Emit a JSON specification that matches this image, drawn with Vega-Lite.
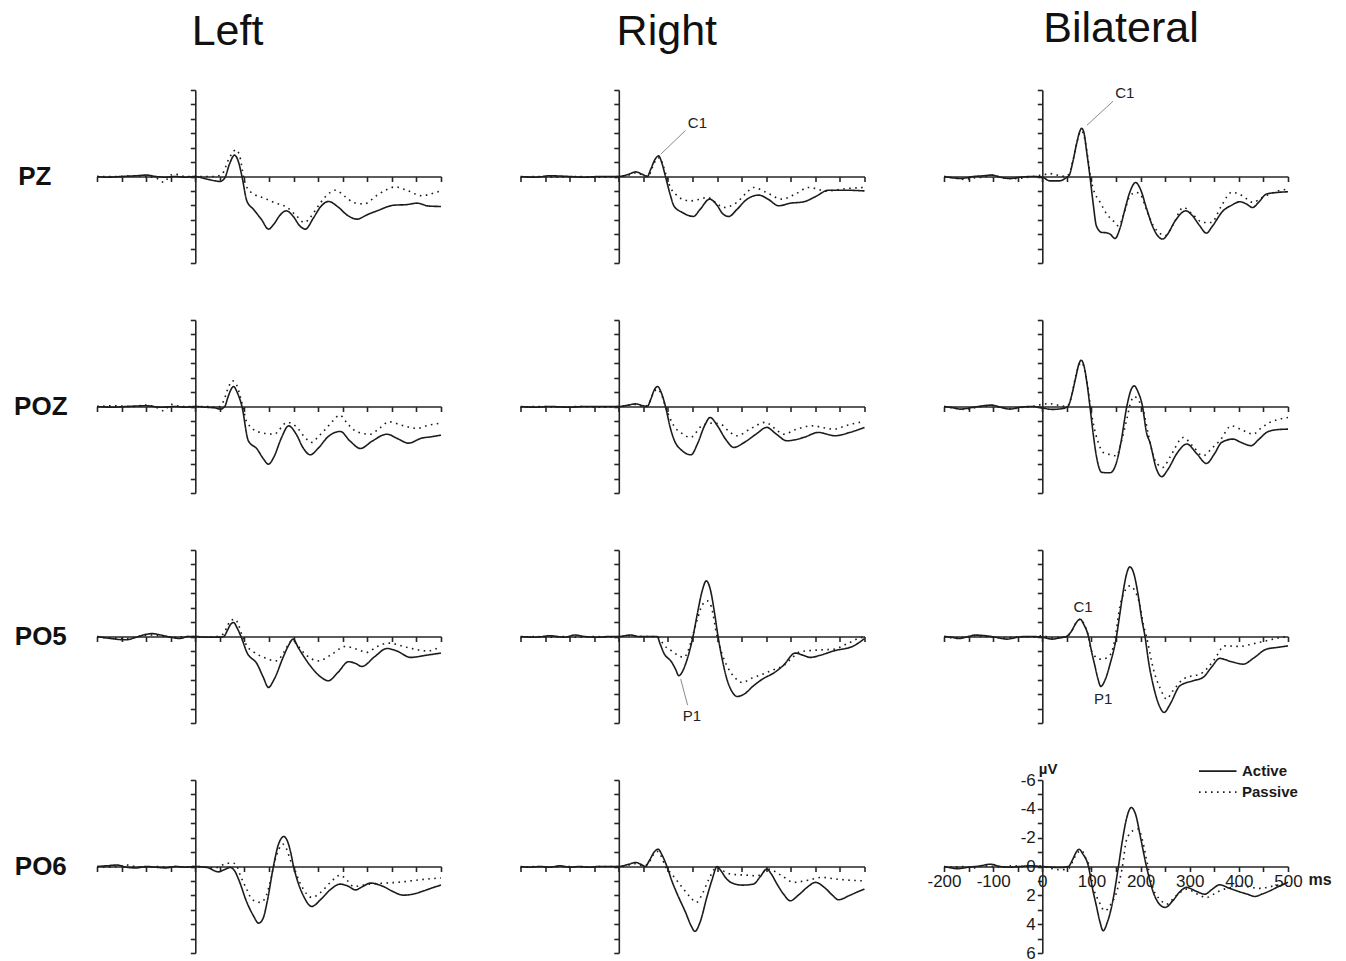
{
"$schema": "https://vega.github.io/schema/vega-lite/v6.json",
"background": "white",
"padding": {"left": 13, "top": 7, "right": 5, "bottom": 5},
"columns": 3,
"spacing": {"row": 57, "column": 79.5},
"bounds": "flush",
"resolve": {"scale": {"strokeDash": "independent"}, "legend": {"strokeDash": "independent"}},
"config": {
  "view": {"stroke": null},
  "font": "Liberation Sans",
  "axis": {"grid": false, "domainColor": "#262626", "domainWidth": 1.6, "tickColor": "#262626", "tickWidth": 1.6, "tickSize": 5, "labelFont": "Liberation Sans", "labelFontSize": 17, "labelColor": "#1a1a1a", "labelFlush": false, "labelOverlap": false, "labelPadding": 2, "titleFont": "Liberation Sans"},
  "line": {"interpolate": "monotone", "color": "#1c1c1c", "strokeWidth": 1.6},
  "text": {"font": "Liberation Sans", "fontSize": 15, "color": "#222222"},
  "rule": {"color": "#8a8a8a", "strokeWidth": 1},
  "title": {"font": "Liberation Sans", "fontSize": 43, "fontWeight": "normal", "color": "#111111"}
},
"datasets": {
"PZ_Left_Active": [{"t":-200,"v":0},{"t":-180,"v":0.05},{"t":-150,"v":0},{"t":-120,"v":-0.05},{"t":-100,"v":-0.1},{"t":-80,"v":0},{"t":-60,"v":0.05},{"t":-40,"v":0},{"t":-20,"v":0.05},{"t":0,"v":0},{"t":20,"v":0.15},{"t":40,"v":0.3},{"t":50,"v":0.35},{"t":60,"v":0.1},{"t":70,"v":-0.9},{"t":80,"v":-1.48},{"t":88,"v":-1.0},{"t":95,"v":0},{"t":105,"v":1.7},{"t":119,"v":2.3},{"t":135,"v":3.0},{"t":149,"v":3.65},{"t":160,"v":3.3},{"t":172,"v":2.7},{"t":185,"v":2.38},{"t":200,"v":2.8},{"t":212,"v":3.4},{"t":224,"v":3.65},{"t":240,"v":2.9},{"t":255,"v":2.1},{"t":271,"v":1.73},{"t":290,"v":2.1},{"t":310,"v":2.7},{"t":329,"v":2.96},{"t":350,"v":2.65},{"t":370,"v":2.38},{"t":404,"v":1.99},{"t":430,"v":1.95},{"t":451,"v":1.85},{"t":475,"v":2.05},{"t":500,"v":2.08}],
"PZ_Left_Passive": [{"t":-200,"v":0},{"t":-160,"v":0},{"t":-130,"v":-0.05},{"t":-100,"v":0},{"t":-80,"v":0.1},{"t":-64,"v":0.4},{"t":-50,"v":-0.1},{"t":-40,"v":-0.15},{"t":-20,"v":0},{"t":0,"v":0},{"t":20,"v":0},{"t":40,"v":0},{"t":55,"v":-0.2},{"t":68,"v":-1.2},{"t":83,"v":-1.85},{"t":92,"v":-1.2},{"t":98,"v":0},{"t":105,"v":0.76},{"t":119,"v":1.22},{"t":140,"v":1.5},{"t":160,"v":1.8},{"t":187,"v":2.15},{"t":205,"v":2.7},{"t":222,"v":3.19},{"t":235,"v":2.8},{"t":248,"v":2.15},{"t":265,"v":1.4},{"t":285,"v":0.95},{"t":305,"v":1.4},{"t":322,"v":1.8},{"t":343,"v":1.9},{"t":370,"v":1.3},{"t":390,"v":0.9},{"t":407,"v":0.72},{"t":430,"v":0.95},{"t":461,"v":1.34},{"t":480,"v":1.2},{"t":500,"v":1.0}],
"PZ_Right_Active": [{"t":-200,"v":0},{"t":-170,"v":0.05},{"t":-140,"v":-0.05},{"t":-100,"v":0},{"t":-70,"v":0.05},{"t":-40,"v":0},{"t":-20,"v":0},{"t":0,"v":0},{"t":20,"v":-0.15},{"t":34,"v":-0.32},{"t":48,"v":-0.15},{"t":58,"v":0},{"t":65,"v":-0.5},{"t":74,"v":-1.2},{"t":81,"v":-1.43},{"t":88,"v":-0.9},{"t":95,"v":0},{"t":105,"v":1.3},{"t":112,"v":2.03},{"t":129,"v":2.49},{"t":152,"v":2.77},{"t":165,"v":2.3},{"t":185,"v":1.57},{"t":200,"v":2.0},{"t":212,"v":2.6},{"t":224,"v":2.77},{"t":240,"v":2.3},{"t":260,"v":1.6},{"t":285,"v":1.29},{"t":305,"v":1.6},{"t":325,"v":2.03},{"t":350,"v":1.85},{"t":376,"v":1.76},{"t":400,"v":1.4},{"t":427,"v":0.95},{"t":460,"v":0.95},{"t":500,"v":1.0}],
"PZ_Right_Passive": [{"t":-200,"v":0.05},{"t":-160,"v":0},{"t":-120,"v":0.05},{"t":-80,"v":0},{"t":-40,"v":0.05},{"t":0,"v":0},{"t":20,"v":-0.1},{"t":34,"v":-0.25},{"t":50,"v":-0.1},{"t":60,"v":0},{"t":68,"v":-0.6},{"t":78,"v":-1.25},{"t":84,"v":-1.3},{"t":90,"v":-0.8},{"t":98,"v":0.1},{"t":105,"v":0.76},{"t":115,"v":1.2},{"t":129,"v":1.57},{"t":146,"v":1.69},{"t":162,"v":1.6},{"t":180,"v":1.45},{"t":197,"v":1.8},{"t":213,"v":2.15},{"t":240,"v":1.8},{"t":258,"v":1.2},{"t":274,"v":0.76},{"t":300,"v":1.1},{"t":332,"v":1.57},{"t":360,"v":1.2},{"t":386,"v":0.76},{"t":423,"v":1.0},{"t":460,"v":0.85},{"t":500,"v":0.76}],
"PZ_Bilateral_Active": [{"t":-200,"v":0},{"t":-180,"v":0.1},{"t":-167,"v":0.14},{"t":-140,"v":0},{"t":-120,"v":-0.05},{"t":-103,"v":-0.1},{"t":-85,"v":0.05},{"t":-66,"v":0.14},{"t":-45,"v":0.05},{"t":-20,"v":0},{"t":0,"v":0.05},{"t":15,"v":0.3},{"t":35,"v":0.3},{"t":48,"v":0.1},{"t":55,"v":-0.1},{"t":62,"v":-1.0},{"t":70,"v":-2.3},{"t":76,"v":-3.1},{"t":80,"v":-3.35},{"t":85,"v":-3.0},{"t":90,"v":-1.8},{"t":97,"v":0},{"t":104,"v":2.0},{"t":110,"v":3.42},{"t":121,"v":3.88},{"t":130,"v":3.9},{"t":138,"v":4.0},{"t":148,"v":4.3},{"t":158,"v":3.6},{"t":168,"v":2.3},{"t":178,"v":1.1},{"t":190,"v":0.42},{"t":200,"v":0.9},{"t":212,"v":2.2},{"t":225,"v":3.5},{"t":237,"v":4.2},{"t":245,"v":4.34},{"t":255,"v":4.0},{"t":270,"v":3.1},{"t":292,"v":2.38},{"t":305,"v":2.7},{"t":320,"v":3.4},{"t":334,"v":3.93},{"t":345,"v":3.5},{"t":368,"v":2.38},{"t":385,"v":2.0},{"t":402,"v":1.75},{"t":415,"v":1.9},{"t":428,"v":2.15},{"t":440,"v":1.8},{"t":456,"v":1.22},{"t":480,"v":1.1},{"t":500,"v":1.06}],
"PZ_Bilateral_Passive": [{"t":-200,"v":0},{"t":-180,"v":0.1},{"t":-160,"v":0.2},{"t":-140,"v":0.1},{"t":-120,"v":0.05},{"t":-100,"v":-0.1},{"t":-80,"v":0.1},{"t":-60,"v":0.15},{"t":-40,"v":0.1},{"t":-20,"v":0},{"t":0,"v":-0.1},{"t":15,"v":-0.2},{"t":30,"v":-0.1},{"t":48,"v":0},{"t":56,"v":-0.3},{"t":63,"v":-1.2},{"t":70,"v":-2.3},{"t":76,"v":-3.0},{"t":80,"v":-3.16},{"t":85,"v":-2.8},{"t":92,"v":-1.5},{"t":98,"v":0},{"t":104,"v":0.88},{"t":118,"v":1.8},{"t":131,"v":2.6},{"t":145,"v":3.1},{"t":155,"v":3.42},{"t":165,"v":2.7},{"t":177,"v":1.45},{"t":190,"v":1.1},{"t":199,"v":1.22},{"t":212,"v":2.3},{"t":226,"v":3.42},{"t":238,"v":3.9},{"t":250,"v":4.1},{"t":265,"v":3.4},{"t":287,"v":2.15},{"t":305,"v":2.6},{"t":327,"v":3.19},{"t":344,"v":3.19},{"t":365,"v":2.0},{"t":385,"v":1.1},{"t":400,"v":1.2},{"t":412,"v":1.45},{"t":429,"v":1.8},{"t":445,"v":1.5},{"t":463,"v":1.22},{"t":480,"v":1.0},{"t":500,"v":0.88}],
"POZ_Left_Active": [{"t":-200,"v":0},{"t":-170,"v":0.05},{"t":-140,"v":0},{"t":-100,"v":-0.05},{"t":-70,"v":0.05},{"t":-40,"v":0},{"t":-20,"v":0.05},{"t":0,"v":0},{"t":20,"v":0.05},{"t":40,"v":0.1},{"t":51,"v":0.18},{"t":60,"v":0},{"t":67,"v":-0.7},{"t":73,"v":-1.2},{"t":78,"v":-1.39},{"t":85,"v":-1.0},{"t":95,"v":0},{"t":108,"v":2.38},{"t":126,"v":2.96},{"t":138,"v":3.6},{"t":149,"v":4.0},{"t":160,"v":3.5},{"t":175,"v":2.2},{"t":190,"v":1.34},{"t":205,"v":1.9},{"t":220,"v":2.9},{"t":234,"v":3.35},{"t":250,"v":2.9},{"t":270,"v":2.1},{"t":295,"v":1.73},{"t":315,"v":2.4},{"t":336,"v":2.91},{"t":360,"v":2.4},{"t":390,"v":1.92},{"t":410,"v":2.2},{"t":434,"v":2.54},{"t":460,"v":2.2},{"t":480,"v":2.1},{"t":500,"v":1.99}],
"POZ_Left_Passive": [{"t":-200,"v":0},{"t":-160,"v":-0.05},{"t":-130,"v":0},{"t":-100,"v":-0.1},{"t":-80,"v":0.05},{"t":-64,"v":0.3},{"t":-50,"v":-0.15},{"t":-30,"v":0},{"t":0,"v":0},{"t":20,"v":0},{"t":45,"v":0.05},{"t":58,"v":-0.4},{"t":67,"v":-1.3},{"t":76,"v":-1.78},{"t":84,"v":-1.5},{"t":93,"v":-0.5},{"t":98,"v":0.2},{"t":105,"v":1.1},{"t":132,"v":1.8},{"t":160,"v":1.92},{"t":187,"v":1.1},{"t":207,"v":1.45},{"t":222,"v":2.1},{"t":237,"v":2.49},{"t":250,"v":2.1},{"t":265,"v":1.57},{"t":280,"v":1.0},{"t":294,"v":0.6},{"t":310,"v":1.2},{"t":329,"v":1.76},{"t":356,"v":1.92},{"t":375,"v":1.5},{"t":394,"v":1.06},{"t":420,"v":1.3},{"t":451,"v":1.52},{"t":475,"v":1.3},{"t":500,"v":1.15}],
"POZ_Right_Active": [{"t":-200,"v":0},{"t":-170,"v":0.05},{"t":-140,"v":0},{"t":-100,"v":0.05},{"t":-70,"v":0},{"t":-40,"v":0},{"t":-20,"v":0},{"t":0,"v":0},{"t":20,"v":-0.1},{"t":34,"v":-0.18},{"t":50,"v":-0.05},{"t":58,"v":0},{"t":65,"v":-0.5},{"t":73,"v":-1.2},{"t":79,"v":-1.39},{"t":86,"v":-1.0},{"t":95,"v":0},{"t":105,"v":1.5},{"t":112,"v":2.26},{"t":129,"v":3.07},{"t":147,"v":3.35},{"t":160,"v":2.6},{"t":175,"v":1.3},{"t":186,"v":0.76},{"t":200,"v":1.3},{"t":218,"v":2.3},{"t":234,"v":2.84},{"t":255,"v":2.5},{"t":280,"v":1.9},{"t":301,"v":1.45},{"t":320,"v":1.9},{"t":342,"v":2.38},{"t":376,"v":2.15},{"t":406,"v":1.8},{"t":440,"v":2.03},{"t":470,"v":1.8},{"t":500,"v":1.45}],
"POZ_Right_Passive": [{"t":-200,"v":0.05},{"t":-160,"v":0},{"t":-120,"v":0.05},{"t":-80,"v":0},{"t":-40,"v":0.05},{"t":0,"v":0},{"t":20,"v":-0.1},{"t":34,"v":-0.15},{"t":50,"v":0},{"t":60,"v":-0.1},{"t":70,"v":-0.9},{"t":78,"v":-1.2},{"t":86,"v":-0.9},{"t":96,"v":0.1},{"t":112,"v":1.34},{"t":130,"v":1.9},{"t":146,"v":2.15},{"t":169,"v":1.34},{"t":190,"v":1.15},{"t":207,"v":1.22},{"t":225,"v":1.75},{"t":240,"v":2.03},{"t":270,"v":1.5},{"t":298,"v":1.1},{"t":320,"v":1.6},{"t":335,"v":1.92},{"t":360,"v":1.6},{"t":393,"v":1.34},{"t":437,"v":1.57},{"t":465,"v":1.3},{"t":494,"v":1.1},{"t":500,"v":1.1}],
"POZ_Bilateral_Active": [{"t":-200,"v":0},{"t":-180,"v":0.1},{"t":-167,"v":0.18},{"t":-140,"v":0.05},{"t":-120,"v":-0.05},{"t":-103,"v":-0.1},{"t":-85,"v":0.05},{"t":-66,"v":0.18},{"t":-45,"v":0.05},{"t":-20,"v":0},{"t":0,"v":0.1},{"t":20,"v":0.2},{"t":40,"v":0.15},{"t":52,"v":0},{"t":60,"v":-0.8},{"t":68,"v":-2.0},{"t":75,"v":-3.0},{"t":79,"v":-3.21},{"t":85,"v":-2.8},{"t":91,"v":-1.6},{"t":97,"v":0},{"t":104,"v":2.0},{"t":110,"v":3.42},{"t":121,"v":4.57},{"t":138,"v":4.6},{"t":151,"v":3.88},{"t":160,"v":2.5},{"t":172,"v":0},{"t":180,"v":-1.1},{"t":187,"v":-1.43},{"t":195,"v":-1.0},{"t":204,"v":0},{"t":212,"v":1.8},{"t":219,"v":2.49},{"t":232,"v":4.3},{"t":243,"v":4.87},{"t":255,"v":4.4},{"t":275,"v":3.2},{"t":294,"v":2.6},{"t":315,"v":3.3},{"t":334,"v":3.95},{"t":350,"v":3.3},{"t":365,"v":2.49},{"t":388,"v":2.26},{"t":405,"v":2.5},{"t":425,"v":2.72},{"t":440,"v":2.3},{"t":459,"v":1.75},{"t":480,"v":1.6},{"t":500,"v":1.57}],
"POZ_Bilateral_Passive": [{"t":-200,"v":0},{"t":-180,"v":0.1},{"t":-160,"v":0.2},{"t":-140,"v":0.1},{"t":-120,"v":0},{"t":-100,"v":-0.05},{"t":-80,"v":0.1},{"t":-60,"v":0.15},{"t":-40,"v":0.05},{"t":-20,"v":0},{"t":0,"v":-0.15},{"t":15,"v":-0.2},{"t":30,"v":-0.1},{"t":50,"v":0},{"t":58,"v":-0.5},{"t":66,"v":-1.8},{"t":74,"v":-2.8},{"t":79,"v":-3.05},{"t":85,"v":-2.7},{"t":92,"v":-1.5},{"t":98,"v":0},{"t":104,"v":1.22},{"t":114,"v":2.5},{"t":124,"v":3.19},{"t":140,"v":3.35},{"t":151,"v":3.42},{"t":162,"v":2.3},{"t":172,"v":0.88},{"t":180,"v":-0.3},{"t":188,"v":-0.69},{"t":196,"v":-0.4},{"t":205,"v":0.18},{"t":215,"v":1.8},{"t":226,"v":3.42},{"t":235,"v":4.0},{"t":245,"v":4.23},{"t":260,"v":3.5},{"t":287,"v":2.15},{"t":305,"v":2.7},{"t":327,"v":3.42},{"t":345,"v":2.9},{"t":361,"v":2.38},{"t":385,"v":1.34},{"t":405,"v":1.6},{"t":429,"v":1.92},{"t":445,"v":1.5},{"t":463,"v":1.1},{"t":480,"v":0.9},{"t":500,"v":0.76}],
"PO5_Left_Active": [{"t":-200,"v":0},{"t":-170,"v":0.15},{"t":-142,"v":0.23},{"t":-120,"v":0.05},{"t":-100,"v":-0.15},{"t":-88,"v":-0.2},{"t":-70,"v":-0.1},{"t":-50,"v":0.05},{"t":-31,"v":0.14},{"t":-15,"v":0},{"t":0,"v":0},{"t":20,"v":0.05},{"t":45,"v":0.05},{"t":58,"v":0},{"t":65,"v":-0.4},{"t":72,"v":-0.85},{"t":78,"v":-0.97},{"t":85,"v":-0.6},{"t":93,"v":0},{"t":105,"v":1.1},{"t":126,"v":1.92},{"t":138,"v":2.8},{"t":149,"v":3.53},{"t":160,"v":3.0},{"t":180,"v":1.34},{"t":190,"v":0.6},{"t":199,"v":0.18},{"t":210,"v":0.8},{"t":234,"v":2.03},{"t":255,"v":2.8},{"t":271,"v":3.07},{"t":290,"v":2.5},{"t":312,"v":1.75},{"t":325,"v":1.85},{"t":339,"v":2.08},{"t":365,"v":1.4},{"t":390,"v":0.83},{"t":410,"v":1.0},{"t":438,"v":1.45},{"t":470,"v":1.3},{"t":500,"v":1.15}],
"PO5_Left_Passive": [{"t":-200,"v":0.05},{"t":-170,"v":0.1},{"t":-140,"v":0.15},{"t":-110,"v":-0.05},{"t":-90,"v":-0.1},{"t":-60,"v":0},{"t":-40,"v":0.05},{"t":-20,"v":0},{"t":0,"v":0},{"t":20,"v":0.05},{"t":45,"v":0},{"t":58,"v":-0.2},{"t":66,"v":-0.8},{"t":74,"v":-1.15},{"t":81,"v":-1.2},{"t":88,"v":-0.8},{"t":96,"v":0},{"t":105,"v":0.65},{"t":120,"v":1.1},{"t":139,"v":1.45},{"t":166,"v":1.69},{"t":180,"v":1.1},{"t":197,"v":0.3},{"t":210,"v":0.7},{"t":220,"v":1.1},{"t":251,"v":1.69},{"t":275,"v":1.3},{"t":305,"v":0.69},{"t":330,"v":0.9},{"t":349,"v":1.1},{"t":370,"v":0.7},{"t":394,"v":0.46},{"t":430,"v":0.75},{"t":472,"v":1.0},{"t":500,"v":0.69}],
"PO5_Right_Active": [{"t":-200,"v":0},{"t":-170,"v":0.05},{"t":-140,"v":-0.05},{"t":-110,"v":0.05},{"t":-90,"v":-0.1},{"t":-70,"v":0},{"t":-40,"v":0.05},{"t":-20,"v":0},{"t":0,"v":0},{"t":24,"v":-0.1},{"t":40,"v":0},{"t":60,"v":0},{"t":78,"v":0},{"t":84,"v":0.5},{"t":91,"v":1.1},{"t":108,"v":1.8},{"t":116,"v":2.3},{"t":122,"v":2.72},{"t":130,"v":2.4},{"t":136,"v":1.9},{"t":151,"v":0},{"t":160,"v":-1.6},{"t":170,"v":-3.2},{"t":178,"v":-3.86},{"t":186,"v":-3.3},{"t":195,"v":-1.6},{"t":202,"v":0},{"t":210,"v":1.5},{"t":220,"v":2.96},{"t":230,"v":3.8},{"t":241,"v":4.16},{"t":255,"v":4.0},{"t":274,"v":3.42},{"t":295,"v":2.9},{"t":315,"v":2.54},{"t":335,"v":2.0},{"t":359,"v":1.15},{"t":375,"v":1.3},{"t":390,"v":1.45},{"t":410,"v":1.3},{"t":437,"v":1.0},{"t":478,"v":0.65},{"t":500,"v":0.14}],
"PO5_Right_Passive": [{"t":-200,"v":0.05},{"t":-170,"v":0},{"t":-140,"v":0.05},{"t":-110,"v":0},{"t":-80,"v":0.05},{"t":-50,"v":0},{"t":-20,"v":0.05},{"t":0,"v":0},{"t":24,"v":-0.05},{"t":50,"v":0},{"t":78,"v":0},{"t":88,"v":0.4},{"t":98,"v":0.8},{"t":108,"v":1.0},{"t":120,"v":1.3},{"t":132,"v":1.45},{"t":142,"v":0.9},{"t":149,"v":0.1},{"t":160,"v":-1.2},{"t":170,"v":-2.2},{"t":180,"v":-2.47},{"t":188,"v":-2.1},{"t":200,"v":0},{"t":210,"v":1.2},{"t":220,"v":2.03},{"t":235,"v":2.8},{"t":251,"v":3.19},{"t":270,"v":2.9},{"t":294,"v":2.6},{"t":315,"v":2.3},{"t":335,"v":2.03},{"t":352,"v":1.5},{"t":369,"v":1.06},{"t":400,"v":0.95},{"t":437,"v":0.88},{"t":465,"v":0.5},{"t":494,"v":0.07},{"t":500,"v":0.05}],
"PO5_Bilateral_Active": [{"t":-200,"v":0},{"t":-185,"v":0.05},{"t":-170,"v":0.14},{"t":-150,"v":0},{"t":-137,"v":-0.1},{"t":-115,"v":-0.05},{"t":-95,"v":0.05},{"t":-72,"v":0.18},{"t":-50,"v":0.05},{"t":-25,"v":0},{"t":0,"v":0.05},{"t":20,"v":0.18},{"t":35,"v":0.1},{"t":49,"v":0},{"t":60,"v":-0.4},{"t":68,"v":-0.9},{"t":77,"v":-1.2},{"t":85,"v":-0.8},{"t":94,"v":0},{"t":100,"v":1.0},{"t":107,"v":2.03},{"t":113,"v":2.9},{"t":119,"v":3.46},{"t":128,"v":3.0},{"t":138,"v":1.9},{"t":151,"v":0},{"t":158,"v":-1.6},{"t":165,"v":-3.2},{"t":172,"v":-4.4},{"t":178,"v":-4.83},{"t":185,"v":-4.5},{"t":195,"v":-2.9},{"t":202,"v":-1.3},{"t":209,"v":0},{"t":217,"v":1.9},{"t":226,"v":3.42},{"t":238,"v":4.8},{"t":248,"v":5.27},{"t":260,"v":4.7},{"t":280,"v":3.42},{"t":307,"v":3.07},{"t":327,"v":2.84},{"t":345,"v":2.1},{"t":361,"v":1.52},{"t":385,"v":1.75},{"t":409,"v":1.92},{"t":430,"v":1.5},{"t":456,"v":0.88},{"t":480,"v":0.75},{"t":500,"v":0.65}],
"PO5_Bilateral_Passive": [{"t":-200,"v":0},{"t":-180,"v":0.1},{"t":-160,"v":0.05},{"t":-140,"v":-0.05},{"t":-120,"v":0},{"t":-100,"v":0.05},{"t":-80,"v":0.1},{"t":-60,"v":0.05},{"t":-40,"v":0},{"t":-20,"v":0.05},{"t":0,"v":-0.05},{"t":20,"v":0.1},{"t":35,"v":0.05},{"t":50,"v":0},{"t":60,"v":-0.4},{"t":68,"v":-0.9},{"t":77,"v":-1.2},{"t":86,"v":-0.8},{"t":94,"v":0},{"t":100,"v":1.0},{"t":117,"v":1.57},{"t":130,"v":1.5},{"t":141,"v":1.1},{"t":150,"v":-0.3},{"t":158,"v":-2.12},{"t":166,"v":-3.0},{"t":178,"v":-3.51},{"t":188,"v":-3.2},{"t":199,"v":-2.1},{"t":206,"v":-0.8},{"t":212,"v":0},{"t":226,"v":2.26},{"t":240,"v":3.6},{"t":253,"v":4.34},{"t":265,"v":3.8},{"t":287,"v":2.96},{"t":327,"v":2.49},{"t":350,"v":1.6},{"t":371,"v":0.65},{"t":402,"v":0.69},{"t":430,"v":0.5},{"t":456,"v":0.3},{"t":480,"v":0.1},{"t":500,"v":0}],
"PO6_Left_Active": [{"t":-200,"v":0},{"t":-180,"v":-0.05},{"t":-160,"v":-0.1},{"t":-140,"v":0.05},{"t":-120,"v":0.1},{"t":-100,"v":0},{"t":-80,"v":0.05},{"t":-60,"v":0.1},{"t":-40,"v":0},{"t":-20,"v":0.05},{"t":0,"v":0},{"t":24,"v":0.07},{"t":47,"v":0.37},{"t":60,"v":0.2},{"t":71,"v":0.07},{"t":80,"v":0.3},{"t":88,"v":0.88},{"t":105,"v":2.49},{"t":118,"v":3.4},{"t":129,"v":3.93},{"t":138,"v":3.6},{"t":146,"v":2.49},{"t":159,"v":0},{"t":168,"v":-1.4},{"t":175,"v":-1.95},{"t":180,"v":-2.08},{"t":187,"v":-1.8},{"t":194,"v":-1.0},{"t":200,"v":0},{"t":210,"v":1.2},{"t":220,"v":2.03},{"t":237,"v":2.77},{"t":255,"v":2.3},{"t":275,"v":1.6},{"t":295,"v":1.22},{"t":310,"v":1.35},{"t":326,"v":1.62},{"t":340,"v":1.4},{"t":356,"v":1.15},{"t":383,"v":1.39},{"t":400,"v":1.7},{"t":424,"v":1.99},{"t":445,"v":1.9},{"t":465,"v":1.69},{"t":485,"v":1.45},{"t":500,"v":1.29}],
"PO6_Left_Passive": [{"t":-200,"v":0},{"t":-180,"v":0.05},{"t":-160,"v":0},{"t":-140,"v":-0.1},{"t":-120,"v":0},{"t":-100,"v":0.05},{"t":-80,"v":0},{"t":-60,"v":0.05},{"t":-40,"v":0},{"t":-20,"v":0.05},{"t":0,"v":0},{"t":20,"v":0.05},{"t":40,"v":0.1},{"t":55,"v":-0.1},{"t":64,"v":-0.23},{"t":78,"v":-0.23},{"t":85,"v":0},{"t":92,"v":0.65},{"t":105,"v":1.6},{"t":115,"v":2.26},{"t":132,"v":2.49},{"t":142,"v":2.2},{"t":153,"v":1.0},{"t":162,"v":-0.4},{"t":170,"v":-1.2},{"t":178,"v":-1.55},{"t":186,"v":-1.2},{"t":194,"v":-0.4},{"t":200,"v":0},{"t":210,"v":0.9},{"t":220,"v":1.57},{"t":237,"v":2.15},{"t":255,"v":1.8},{"t":275,"v":1.1},{"t":295,"v":0.6},{"t":310,"v":1.0},{"t":322,"v":1.39},{"t":340,"v":1.3},{"t":356,"v":1.22},{"t":385,"v":1.15},{"t":411,"v":1.1},{"t":450,"v":0.95},{"t":485,"v":0.83},{"t":500,"v":0.8}],
"PO6_Right_Active": [{"t":-200,"v":0},{"t":-180,"v":0.05},{"t":-160,"v":0},{"t":-140,"v":0.05},{"t":-120,"v":-0.05},{"t":-100,"v":0.05},{"t":-80,"v":0},{"t":-60,"v":0.05},{"t":-40,"v":0},{"t":-20,"v":0},{"t":0,"v":0},{"t":20,"v":-0.15},{"t":34,"v":-0.28},{"t":45,"v":-0.15},{"t":54,"v":0},{"t":62,"v":-0.4},{"t":72,"v":-1.0},{"t":80,"v":-1.2},{"t":88,"v":-0.8},{"t":98,"v":0},{"t":108,"v":1.0},{"t":119,"v":1.92},{"t":136,"v":3.19},{"t":147,"v":4.1},{"t":155,"v":4.5},{"t":165,"v":3.9},{"t":180,"v":2.03},{"t":190,"v":0.9},{"t":200,"v":0},{"t":208,"v":0.3},{"t":218,"v":0.8},{"t":228,"v":1.1},{"t":251,"v":1.29},{"t":274,"v":1.22},{"t":288,"v":0.7},{"t":301,"v":0.18},{"t":310,"v":0.5},{"t":322,"v":1.22},{"t":335,"v":1.9},{"t":349,"v":2.38},{"t":365,"v":2.0},{"t":385,"v":1.4},{"t":400,"v":1.1},{"t":420,"v":1.5},{"t":435,"v":2.0},{"t":447,"v":2.31},{"t":470,"v":2.0},{"t":490,"v":1.7},{"t":500,"v":1.57}],
"PO6_Right_Passive": [{"t":-200,"v":0.05},{"t":-170,"v":0},{"t":-140,"v":0.05},{"t":-100,"v":0},{"t":-70,"v":0.05},{"t":-40,"v":0},{"t":0,"v":0},{"t":20,"v":-0.1},{"t":34,"v":-0.2},{"t":50,"v":-0.05},{"t":60,"v":-0.2},{"t":70,"v":-0.8},{"t":78,"v":-1.05},{"t":85,"v":-0.8},{"t":95,"v":0},{"t":108,"v":0.53},{"t":129,"v":1.45},{"t":145,"v":2.1},{"t":158,"v":2.49},{"t":170,"v":1.9},{"t":183,"v":0.9},{"t":199,"v":0.07},{"t":212,"v":0.3},{"t":228,"v":0.53},{"t":260,"v":0.6},{"t":281,"v":0.65},{"t":305,"v":0.18},{"t":330,"v":0.6},{"t":356,"v":1.1},{"t":385,"v":0.95},{"t":413,"v":0.76},{"t":450,"v":0.9},{"t":500,"v":1.0}],
"PO6_Bilateral_Active": [{"t":-200,"v":0},{"t":-185,"v":0.1},{"t":-174,"v":0.15},{"t":-150,"v":0.05},{"t":-125,"v":-0.05},{"t":-106,"v":-0.16},{"t":-85,"v":0},{"t":-65,"v":0.05},{"t":-45,"v":0},{"t":-25,"v":-0.05},{"t":0,"v":0},{"t":20,"v":0.05},{"t":36,"v":0.07},{"t":53,"v":0},{"t":62,"v":-0.5},{"t":70,"v":-1.05},{"t":75,"v":-1.2},{"t":82,"v":-0.9},{"t":94,"v":0},{"t":102,"v":1.5},{"t":110,"v":2.72},{"t":117,"v":3.8},{"t":124,"v":4.46},{"t":132,"v":3.9},{"t":141,"v":2.8},{"t":155,"v":0},{"t":163,"v":-1.8},{"t":172,"v":-3.4},{"t":181,"v":-4.09},{"t":190,"v":-3.6},{"t":200,"v":-2.0},{"t":212,"v":0},{"t":226,"v":1.8},{"t":238,"v":2.6},{"t":250,"v":2.84},{"t":265,"v":2.4},{"t":280,"v":1.75},{"t":294,"v":1.45},{"t":312,"v":1.7},{"t":331,"v":1.92},{"t":345,"v":1.6},{"t":361,"v":1.27},{"t":380,"v":1.5},{"t":402,"v":1.76},{"t":420,"v":1.95},{"t":432,"v":2.08},{"t":448,"v":1.9},{"t":463,"v":1.69},{"t":480,"v":1.4},{"t":500,"v":1.1}],
"PO6_Bilateral_Passive": [{"t":-200,"v":0},{"t":-180,"v":0.05},{"t":-160,"v":0},{"t":-140,"v":0.1},{"t":-120,"v":-0.05},{"t":-100,"v":0},{"t":-80,"v":0.05},{"t":-60,"v":-0.05},{"t":-40,"v":0},{"t":-20,"v":-0.05},{"t":0,"v":0},{"t":20,"v":0.15},{"t":36,"v":0.23},{"t":55,"v":0.1},{"t":65,"v":-0.6},{"t":75,"v":-1.05},{"t":80,"v":-1.1},{"t":88,"v":-0.6},{"t":96,"v":0},{"t":104,"v":1.45},{"t":115,"v":2.4},{"t":127,"v":3.07},{"t":140,"v":2.6},{"t":151,"v":1.8},{"t":162,"v":0.2},{"t":172,"v":-1.9},{"t":185,"v":-2.5},{"t":195,"v":-2.6},{"t":204,"v":-1.8},{"t":212,"v":-0.5},{"t":226,"v":1.57},{"t":240,"v":2.3},{"t":253,"v":2.61},{"t":270,"v":2.1},{"t":294,"v":1.57},{"t":315,"v":1.9},{"t":334,"v":2.15},{"t":350,"v":1.9},{"t":361,"v":1.69},{"t":385,"v":1.45},{"t":402,"v":1.34},{"t":425,"v":1.45},{"t":443,"v":1.52},{"t":470,"v":1.35},{"t":497,"v":1.22},{"t":500,"v":1.22}],
"notes": [{"panel":"PZ_Right","label":"C1","t":160,"v":-3.7},{"panel":"PZ_Bilateral","label":"C1","t":168,"v":-5.78},{"panel":"PO5_Right","label":"P1","t":149,"v":5.53},{"panel":"PO5_Bilateral","label":"C1","t":83,"v":-2.03},{"panel":"PO5_Bilateral","label":"P1","t":124,"v":4.35}],
"leaders": [{"panel":"PZ_Right","t":136,"v":-3.2,"t2":85.5,"v2":-1.55},{"panel":"PZ_Bilateral","t":144,"v":-5.22,"t2":91,"v2":-3.56},{"panel":"PO5_Right","t":140,"v":4.76,"t2":126,"v2":2.96}]
},
"concat": [
{"width":344,"height":173,
 "title":{"text":"Left","anchor":"middle","dx":-41.5,"baseline":"alphabetic","offset":1.4},
 "encoding":{"x":{"field":"t","type":"quantitative","scale":{"domain":[-200,500],"nice":false},"axis":{"title":null,"labels":false,"offset":-86.5,"values":[-200,-150,-100,-50,0,50,100,150,200,250,300,350,400,450,500]}},
  "y":{"field":"v","type":"quantitative","scale":{"domain":[-6,6],"reverse":true,"nice":false},"axis":{"labels":false,"offset":-98.3,"values":[-6,-5,-4,-3,-2,-1,0,1,2,3,4,5,6],"title":"PZ","titleAngle":0,"titleX":-161,"titleY":86.5,"titleAlign":"center","titleBaseline":"middle","titleFontSize":26,"titleFontWeight":"bold","titleColor":"#111111"}}},
 "layer":[
  {"data":{"name":"PZ_Left_Active"},"mark":"line","encoding":{"strokeDash":{"datum":"Active","scale":{"domain":["Active","Passive"],"range":[[1,0],[1.6,4.4]]},"legend":null}}},
  {"data":{"name":"PZ_Left_Passive"},"mark":"line","encoding":{"strokeDash":{"datum":"Passive","scale":{"domain":["Active","Passive"],"range":[[1,0],[1.6,4.4]]},"legend":null}}}
 ]},
{"width":344,"height":173,
 "title":{"text":"Right","anchor":"middle","dx":-25.7,"baseline":"alphabetic","offset":1.4},
 "encoding":{"x":{"field":"t","type":"quantitative","scale":{"domain":[-200,500],"nice":false},"axis":{"title":null,"labels":false,"offset":-86.5,"values":[-200,-150,-100,-50,0,50,100,150,200,250,300,350,400,450,500]}},
  "y":{"field":"v","type":"quantitative","scale":{"domain":[-6,6],"reverse":true,"nice":false},"axis":{"title":null,"labels":false,"offset":-98.3,"values":[-6,-5,-4,-3,-2,-1,0,1,2,3,4,5,6]}}},
 "layer":[
  {"data":{"name":"PZ_Right_Active"},"mark":"line","encoding":{"strokeDash":{"datum":"Active","scale":{"domain":["Active","Passive"],"range":[[1,0],[1.6,4.4]]},"legend":null}}},
  {"data":{"name":"PZ_Right_Passive"},"mark":"line","encoding":{"strokeDash":{"datum":"Passive","scale":{"domain":["Active","Passive"],"range":[[1,0],[1.6,4.4]]},"legend":null}}},
  {"data":{"name":"leaders"},"transform":[{"filter":"datum.panel == 'PZ_Right'"}],"mark":"rule","encoding":{"x2":{"field":"t2"},"y2":{"field":"v2"}}},
  {"data":{"name":"notes"},"transform":[{"filter":"datum.panel == 'PZ_Right'"}],"mark":{"type":"text","align":"center","baseline":"middle"},"encoding":{"text":{"field":"label"}}}
 ]},
{"width":344,"height":173,
 "title":{"text":"Bilateral","anchor":"middle","dx":5,"baseline":"alphabetic","offset":1.4},
 "encoding":{"x":{"field":"t","type":"quantitative","scale":{"domain":[-200,500],"nice":false},"axis":{"title":null,"labels":false,"offset":-86.5,"values":[-200,-150,-100,-50,0,50,100,150,200,250,300,350,400,450,500]}},
  "y":{"field":"v","type":"quantitative","scale":{"domain":[-6,6],"reverse":true,"nice":false},"axis":{"title":null,"labels":false,"offset":-98.3,"values":[-6,-5,-4,-3,-2,-1,0,1,2,3,4,5,6]}}},
 "layer":[
  {"data":{"name":"PZ_Bilateral_Active"},"mark":"line","encoding":{"strokeDash":{"datum":"Active","scale":{"domain":["Active","Passive"],"range":[[1,0],[1.6,4.4]]},"legend":null}}},
  {"data":{"name":"PZ_Bilateral_Passive"},"mark":"line","encoding":{"strokeDash":{"datum":"Passive","scale":{"domain":["Active","Passive"],"range":[[1,0],[1.6,4.4]]},"legend":null}}},
  {"data":{"name":"leaders"},"transform":[{"filter":"datum.panel == 'PZ_Bilateral'"}],"mark":"rule","encoding":{"x2":{"field":"t2"},"y2":{"field":"v2"}}},
  {"data":{"name":"notes"},"transform":[{"filter":"datum.panel == 'PZ_Bilateral'"}],"mark":{"type":"text","align":"center","baseline":"middle"},"encoding":{"text":{"field":"label"}}}
 ]},
{"width":344,"height":173,
 "encoding":{"x":{"field":"t","type":"quantitative","scale":{"domain":[-200,500],"nice":false},"axis":{"title":null,"labels":false,"offset":-86.5,"values":[-200,-150,-100,-50,0,50,100,150,200,250,300,350,400,450,500]}},
  "y":{"field":"v","type":"quantitative","scale":{"domain":[-6,6],"reverse":true,"nice":false},"axis":{"labels":false,"offset":-98.3,"values":[-6,-5,-4,-3,-2,-1,0,1,2,3,4,5,6],"title":"POZ","titleAngle":0,"titleX":-155,"titleY":86.5,"titleAlign":"center","titleBaseline":"middle","titleFontSize":26,"titleFontWeight":"bold","titleColor":"#111111"}}},
 "layer":[
  {"data":{"name":"POZ_Left_Active"},"mark":"line","encoding":{"strokeDash":{"datum":"Active","scale":{"domain":["Active","Passive"],"range":[[1,0],[1.6,4.4]]},"legend":null}}},
  {"data":{"name":"POZ_Left_Passive"},"mark":"line","encoding":{"strokeDash":{"datum":"Passive","scale":{"domain":["Active","Passive"],"range":[[1,0],[1.6,4.4]]},"legend":null}}}
 ]},
{"width":344,"height":173,
 "encoding":{"x":{"field":"t","type":"quantitative","scale":{"domain":[-200,500],"nice":false},"axis":{"title":null,"labels":false,"offset":-86.5,"values":[-200,-150,-100,-50,0,50,100,150,200,250,300,350,400,450,500]}},
  "y":{"field":"v","type":"quantitative","scale":{"domain":[-6,6],"reverse":true,"nice":false},"axis":{"title":null,"labels":false,"offset":-98.3,"values":[-6,-5,-4,-3,-2,-1,0,1,2,3,4,5,6]}}},
 "layer":[
  {"data":{"name":"POZ_Right_Active"},"mark":"line","encoding":{"strokeDash":{"datum":"Active","scale":{"domain":["Active","Passive"],"range":[[1,0],[1.6,4.4]]},"legend":null}}},
  {"data":{"name":"POZ_Right_Passive"},"mark":"line","encoding":{"strokeDash":{"datum":"Passive","scale":{"domain":["Active","Passive"],"range":[[1,0],[1.6,4.4]]},"legend":null}}}
 ]},
{"width":344,"height":173,
 "encoding":{"x":{"field":"t","type":"quantitative","scale":{"domain":[-200,500],"nice":false},"axis":{"title":null,"labels":false,"offset":-86.5,"values":[-200,-150,-100,-50,0,50,100,150,200,250,300,350,400,450,500]}},
  "y":{"field":"v","type":"quantitative","scale":{"domain":[-6,6],"reverse":true,"nice":false},"axis":{"title":null,"labels":false,"offset":-98.3,"values":[-6,-5,-4,-3,-2,-1,0,1,2,3,4,5,6]}}},
 "layer":[
  {"data":{"name":"POZ_Bilateral_Active"},"mark":"line","encoding":{"strokeDash":{"datum":"Active","scale":{"domain":["Active","Passive"],"range":[[1,0],[1.6,4.4]]},"legend":null}}},
  {"data":{"name":"POZ_Bilateral_Passive"},"mark":"line","encoding":{"strokeDash":{"datum":"Passive","scale":{"domain":["Active","Passive"],"range":[[1,0],[1.6,4.4]]},"legend":null}}}
 ]},
{"width":344,"height":173,
 "encoding":{"x":{"field":"t","type":"quantitative","scale":{"domain":[-200,500],"nice":false},"axis":{"title":null,"labels":false,"offset":-86.5,"values":[-200,-150,-100,-50,0,50,100,150,200,250,300,350,400,450,500]}},
  "y":{"field":"v","type":"quantitative","scale":{"domain":[-6,6],"reverse":true,"nice":false},"axis":{"labels":false,"offset":-98.3,"values":[-6,-5,-4,-3,-2,-1,0,1,2,3,4,5,6],"title":"PO5","titleAngle":0,"titleX":-155,"titleY":86.5,"titleAlign":"center","titleBaseline":"middle","titleFontSize":26,"titleFontWeight":"bold","titleColor":"#111111"}}},
 "layer":[
  {"data":{"name":"PO5_Left_Active"},"mark":"line","encoding":{"strokeDash":{"datum":"Active","scale":{"domain":["Active","Passive"],"range":[[1,0],[1.6,4.4]]},"legend":null}}},
  {"data":{"name":"PO5_Left_Passive"},"mark":"line","encoding":{"strokeDash":{"datum":"Passive","scale":{"domain":["Active","Passive"],"range":[[1,0],[1.6,4.4]]},"legend":null}}}
 ]},
{"width":344,"height":173,
 "encoding":{"x":{"field":"t","type":"quantitative","scale":{"domain":[-200,500],"nice":false},"axis":{"title":null,"labels":false,"offset":-86.5,"values":[-200,-150,-100,-50,0,50,100,150,200,250,300,350,400,450,500]}},
  "y":{"field":"v","type":"quantitative","scale":{"domain":[-6,6],"reverse":true,"nice":false},"axis":{"title":null,"labels":false,"offset":-98.3,"values":[-6,-5,-4,-3,-2,-1,0,1,2,3,4,5,6]}}},
 "layer":[
  {"data":{"name":"PO5_Right_Active"},"mark":"line","encoding":{"strokeDash":{"datum":"Active","scale":{"domain":["Active","Passive"],"range":[[1,0],[1.6,4.4]]},"legend":null}}},
  {"data":{"name":"PO5_Right_Passive"},"mark":"line","encoding":{"strokeDash":{"datum":"Passive","scale":{"domain":["Active","Passive"],"range":[[1,0],[1.6,4.4]]},"legend":null}}},
  {"data":{"name":"leaders"},"transform":[{"filter":"datum.panel == 'PO5_Right'"}],"mark":"rule","encoding":{"x2":{"field":"t2"},"y2":{"field":"v2"}}},
  {"data":{"name":"notes"},"transform":[{"filter":"datum.panel == 'PO5_Right'"}],"mark":{"type":"text","align":"center","baseline":"middle"},"encoding":{"text":{"field":"label"}}}
 ]},
{"width":344,"height":173,
 "encoding":{"x":{"field":"t","type":"quantitative","scale":{"domain":[-200,500],"nice":false},"axis":{"title":null,"labels":false,"offset":-86.5,"values":[-200,-150,-100,-50,0,50,100,150,200,250,300,350,400,450,500]}},
  "y":{"field":"v","type":"quantitative","scale":{"domain":[-6,6],"reverse":true,"nice":false},"axis":{"title":null,"labels":false,"offset":-98.3,"values":[-6,-5,-4,-3,-2,-1,0,1,2,3,4,5,6]}}},
 "layer":[
  {"data":{"name":"PO5_Bilateral_Active"},"mark":"line","encoding":{"strokeDash":{"datum":"Active","scale":{"domain":["Active","Passive"],"range":[[1,0],[1.6,4.4]]},"legend":null}}},
  {"data":{"name":"PO5_Bilateral_Passive"},"mark":"line","encoding":{"strokeDash":{"datum":"Passive","scale":{"domain":["Active","Passive"],"range":[[1,0],[1.6,4.4]]},"legend":null}}},
  {"data":{"name":"notes"},"transform":[{"filter":"datum.panel == 'PO5_Bilateral'"}],"mark":{"type":"text","align":"center","baseline":"middle"},"encoding":{"text":{"field":"label"}}}
 ]},
{"width":344,"height":173,
 "encoding":{"x":{"field":"t","type":"quantitative","scale":{"domain":[-200,500],"nice":false},"axis":{"title":null,"labels":false,"offset":-86.5,"values":[-200,-150,-100,-50,0,50,100,150,200,250,300,350,400,450,500]}},
  "y":{"field":"v","type":"quantitative","scale":{"domain":[-6,6],"reverse":true,"nice":false},"axis":{"labels":false,"offset":-98.3,"values":[-6,-5,-4,-3,-2,-1,0,1,2,3,4,5,6],"title":"PO6","titleAngle":0,"titleX":-155,"titleY":86.5,"titleAlign":"center","titleBaseline":"middle","titleFontSize":26,"titleFontWeight":"bold","titleColor":"#111111"}}},
 "layer":[
  {"data":{"name":"PO6_Left_Active"},"mark":"line","encoding":{"strokeDash":{"datum":"Active","scale":{"domain":["Active","Passive"],"range":[[1,0],[1.6,4.4]]},"legend":null}}},
  {"data":{"name":"PO6_Left_Passive"},"mark":"line","encoding":{"strokeDash":{"datum":"Passive","scale":{"domain":["Active","Passive"],"range":[[1,0],[1.6,4.4]]},"legend":null}}}
 ]},
{"width":344,"height":173,
 "encoding":{"x":{"field":"t","type":"quantitative","scale":{"domain":[-200,500],"nice":false},"axis":{"title":null,"labels":false,"offset":-86.5,"values":[-200,-150,-100,-50,0,50,100,150,200,250,300,350,400,450,500]}},
  "y":{"field":"v","type":"quantitative","scale":{"domain":[-6,6],"reverse":true,"nice":false},"axis":{"title":null,"labels":false,"offset":-98.3,"values":[-6,-5,-4,-3,-2,-1,0,1,2,3,4,5,6]}}},
 "layer":[
  {"data":{"name":"PO6_Right_Active"},"mark":"line","encoding":{"strokeDash":{"datum":"Active","scale":{"domain":["Active","Passive"],"range":[[1,0],[1.6,4.4]]},"legend":null}}},
  {"data":{"name":"PO6_Right_Passive"},"mark":"line","encoding":{"strokeDash":{"datum":"Passive","scale":{"domain":["Active","Passive"],"range":[[1,0],[1.6,4.4]]},"legend":null}}}
 ]},
{"width":344,"height":173,
 "encoding":{"x":{"field":"t","type":"quantitative","scale":{"domain":[-200,500],"nice":false},"axis":{"labels":true,"labelExpr":"datum.value % 100 == 0 ? '' + datum.value : ''","offset":-86.5,"values":[-200,-150,-100,-50,0,50,100,150,200,250,300,350,400,450,500],"title":"ms","titleX":364,"titleY":13,"titleAlign":"left","titleBaseline":"middle","titleFontSize":16,"titleFontWeight":"bold","titleColor":"#1a1a1a"}},
  "y":{"field":"v","type":"quantitative","scale":{"domain":[-6,6],"reverse":true,"nice":false},"axis":{"labels":true,"labelExpr":"datum.value % 2 == 0 ? '' + datum.value : ''","offset":-98.3,"values":[-6,-5,-4,-3,-2,-1,0,1,2,3,4,5,6],"title":"µV","titleAngle":0,"titleX":-4,"titleY":-7,"titleAlign":"left","titleBaseline":"alphabetic","titleFontSize":15,"titleFontWeight":"bold","titleColor":"#1a1a1a"}}},
 "layer":[
  {"data":{"name":"PO6_Bilateral_Active"},"mark":"line","encoding":{"strokeDash":{"datum":"Active","scale":{"domain":["Active","Passive"],"range":[[1,0],[1.6,4.4]]},"legend":{"orient":"none","legendX":265.25,"legendY":-17.4,"title":null,"padding":0,"symbolType":"M-2.5,0H2.5","symbolSize":225,"symbolStrokeWidth":1.6,"symbolStrokeColor":"#1c1c1c","labelFont":"Liberation Sans","labelFontSize":15,"labelFontWeight":"bold","labelColor":"#1a1a1a","labelOffset":15.75,"rowPadding":4}}}},
  {"data":{"name":"PO6_Bilateral_Passive"},"mark":"line","encoding":{"strokeDash":{"datum":"Passive","scale":{"domain":["Active","Passive"],"range":[[1,0],[1.6,4.4]]}}}}
 ]}
]
}
